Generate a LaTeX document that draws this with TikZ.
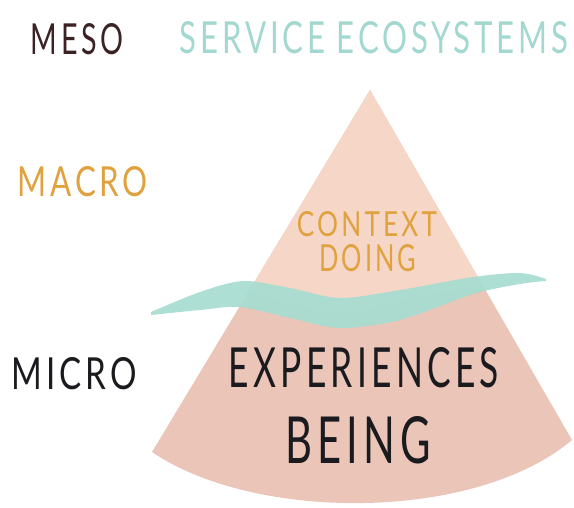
\documentclass[tikz,border=0pt]{standalone}
\usepackage{fontspec}
\setmainfont{Lato}[LetterSpace=12]
\usepackage{graphicx}

\definecolor{conetop}{HTML}{F6D6C6}
\definecolor{conebot}{HTML}{EAC5B8}
\definecolor{wavecol}{HTML}{A6DCD1}
\definecolor{ecoteal}{HTML}{A3D8D0}
\definecolor{macroorange}{HTML}{E0A23F}
\definecolor{mesobrown}{HTML}{3B2325}
\definecolor{ink}{HTML}{1B1B1F}

% text squeezed into a box of given width and cap height
\newcommand{\handtext}[3]{\resizebox{#1pt}{#2pt}{#3}}

\begin{document}
\begin{tikzpicture}[x=1pt,y=-1pt]
        \useasboundingbox (0,0) rectangle (574,507);

        %%%%%%%%% Cono %%%%%%%%%
        \coordinate (apex) at (370,90);
        \coordinate (bl) at (152,452);
        \coordinate (br) at (572,440);
        \fill[conebot] (apex) -- (bl) .. controls (255,522) and (475,522) .. (br) -- cycle;
        \begin{scope}
            \clip (apex) -- (bl) .. controls (255,522) and (475,522) .. (br) -- cycle;
            \fill[conetop] (140,60) -- (140,313) -- plot[smooth] coordinates {(152,313) (240,294) (340,313) (430,294) (546,280)} -- (580,280) -- (580,60) -- cycle;
        \end{scope}

        %%%%%%%%% Onda %%%%%%%%%
        \fill[wavecol,opacity=0.92] plot[smooth] coordinates {(151,312) (200,292) (243,281) (290,288) (340,298) (400,290) (473,277) (520,273) (546,279)}
            -- plot[smooth] coordinates {(546,281) (520,284) (473,294) (400,320) (340,328) (290,318) (240,307) (200,310) (151,315)} -- cycle;

        %%%%%%%%% Testo %%%%%%%%%
        \node[mesobrown] (meso) at (77,39) {\handtext{92}{31}{MESO}};
        \node[ecoteal] (ecosys) at (374,38) {\handtext{388}{32}{SERVICE ECOSYSTEMS}};
        \node[macroorange] (macro) at (83,182) {\handtext{130}{30}{MACRO}};
        \node[ink] (micro) at (74,374) {\handtext{125}{32}{MICRO}};
        \node[macroorange] (context) at (367,224) {\handtext{140}{25}{CONTEXT}};
        \node[macroorange] (doing) at (368,258) {\handtext{97}{27}{DOING}};
        \node[ink] (experiences) at (364,368) {\handtext{270}{40}{EXPERIENCES}};
        \node[ink] (being) at (358,440) {\handtext{145}{47}{BEING}};
\end{tikzpicture}
\end{document}
